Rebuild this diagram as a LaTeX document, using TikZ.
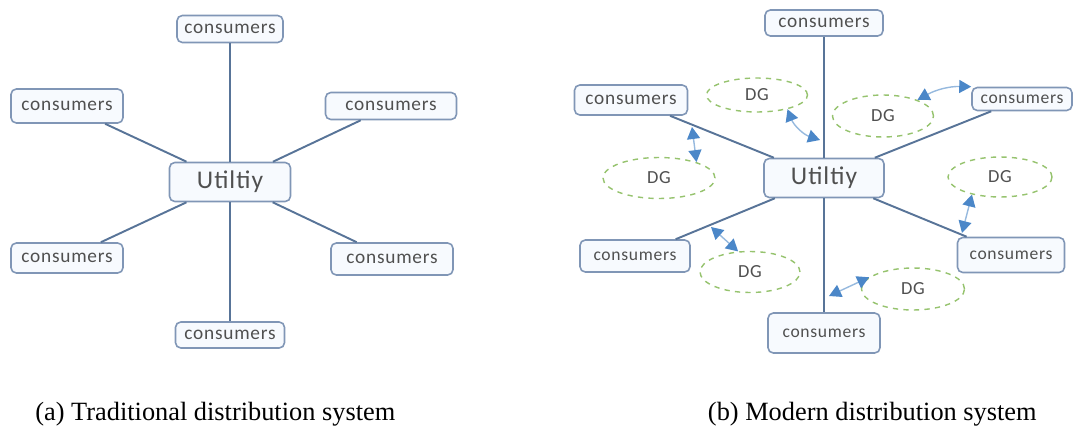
\documentclass[tikz,border=0pt]{standalone}
\usepackage{fontspec}
\setmainfont{Liberation Serif}
\newfontfamily\boxfont[LetterSpace=4]{Carlito}
\usetikzlibrary{arrows.meta,shapes.geometric}
\definecolor{LineBlue}{RGB}{88,116,152}
\definecolor{BoxEdge}{RGB}{128,150,182}
\definecolor{BoxFill}{RGB}{247,250,254}
\definecolor{DGGreen}{RGB}{150,195,110}
\definecolor{ArrowBlue}{RGB}{150,185,222}
\definecolor{TipBlue}{RGB}{75,135,200}
\definecolor{TextGray}{RGB}{80,80,80}
\tikzset{
  feeder/.style={draw=LineBlue,line width=1.1pt},
  cbox/.style={draw=BoxEdge,fill=BoxFill,rounded corners=3pt,line width=0.9pt,
    inner sep=0pt,text=TextGray,font=\boxfont\fontsize{11}{13}\selectfont},
  sbox/.style={cbox,font=\boxfont\fontsize{10}{12}\selectfont},
  ubox/.style={cbox,font=\boxfont\fontsize{14.5}{17}\selectfont},
  dg/.style={ellipse,draw=DGGreen,dashed,line width=0.8pt,fill=white,
    inner sep=0pt,text=TextGray,font=\boxfont\fontsize{10.5}{12}\selectfont},
  dgarrow/.style={{Triangle[length=2.4mm,width=2.6mm,color=TipBlue]}-{Triangle[length=2.4mm,width=2.6mm,color=TipBlue]},
    draw=ArrowBlue,line width=0.8pt},
  caption/.style={font=\fontsize{15}{17}\selectfont,inner sep=0pt}
}
\begin{document}
\begin{tikzpicture}[x=0.02cm,y=-0.02cm]
  \useasboundingbox (0,0) rectangle (1074,429);
  % (a) traditional system
  \node[ubox,minimum width=2.42cm,minimum height=0.78cm] (utilA) at (230,182) {Utiltiy};
  \node[cbox,minimum width=2.12cm,minimum height=0.54cm] (cAN) at (230,29) {consumers};
  \node[cbox,minimum width=2.24cm,minimum height=0.68cm] (cANW) at (67,106) {consumers};
  \node[cbox,minimum width=2.62cm,minimum height=0.54cm] (cANE) at (391,106) {consumers};
  \node[cbox,minimum width=2.24cm,minimum height=0.60cm] (cASW) at (67,258) {consumers};
  \node[cbox,minimum width=2.44cm,minimum height=0.64cm] (cASE) at (392,259) {consumers};
  \node[cbox,minimum width=2.18cm,minimum height=0.52cm] (cAS) at (230,335) {consumers};
  \foreach \c in {cAN,cANW,cANE,cASW,cASE,cAS}
    \draw[feeder] (utilA) -- (\c);

  % (b) modern system
  \node[ubox,minimum width=2.40cm,minimum height=0.78cm] (utilB) at (824,178) {Utiltiy};
  \node[cbox,minimum width=2.36cm,minimum height=0.52cm] (cBN) at (824,23) {consumers};
  \node[cbox,minimum width=2.26cm,minimum height=0.60cm] (cBNW) at (631,100) {consumers};
  \node[sbox,minimum width=2.00cm,minimum height=0.46cm] (cBNE) at (1022,99) {consumers};
  \node[sbox,minimum width=2.20cm,minimum height=0.64cm] (cBSW) at (635,256) {consumers};
  \node[sbox,minimum width=2.14cm,minimum height=0.70cm] (cBSE) at (1011,255) {consumers};
  \node[sbox,minimum width=2.24cm,minimum height=0.80cm] (cBS) at (824,333) {consumers};
  \foreach \c in {cBN,cBNW,cBNE,cBSW,cBSE,cBS}
    \draw[feeder] (utilB) -- (\c);

  \node[dg,minimum width=2.02cm,minimum height=0.68cm] (dgN) at (757,95) {DG};
  \node[dg,minimum width=2.02cm,minimum height=0.84cm] (dgNE) at (883,116) {DG};
  \node[dg,minimum width=2.24cm,minimum height=0.82cm] (dgW) at (659,178) {DG};
  \node[dg,minimum width=2.08cm,minimum height=0.80cm] (dgE) at (1000,177) {DG};
  \node[dg,minimum width=2.00cm,minimum height=0.82cm] (dgSW) at (750,272) {DG};
  \node[dg,minimum width=2.06cm,minimum height=0.84cm] (dgSE) at (913,289) {DG};

  % taps on the feeders
  \coordinate (tW) at (692,127);
  \coordinate (tN) at (820,140);
  \coordinate (tE) at (962,233);
  \coordinate (tSW) at (711,227);
  \coordinate (tS) at (829,296);
  \draw[dgarrow] (tW) -- (dgW.23);
  \draw[dgarrow] (dgN.-25) to[bend right=25] (tN);
  \draw[dgarrow] (dgNE.25) to[bend left=15] (cBNE.north west);
  \draw[dgarrow] (tE) -- (dgE.-148);
  \draw[dgarrow] (tSW) -- (dgSW.120);
  \draw[dgarrow] (tS) -- (dgSE.165);

  \node[caption,anchor=base west] (capA) at (35,420) {(a) Traditional distribution system};
  \node[caption,anchor=base east] (capB) at (1037,420) {(b) Modern distribution system};
\end{tikzpicture}
\end{document}
